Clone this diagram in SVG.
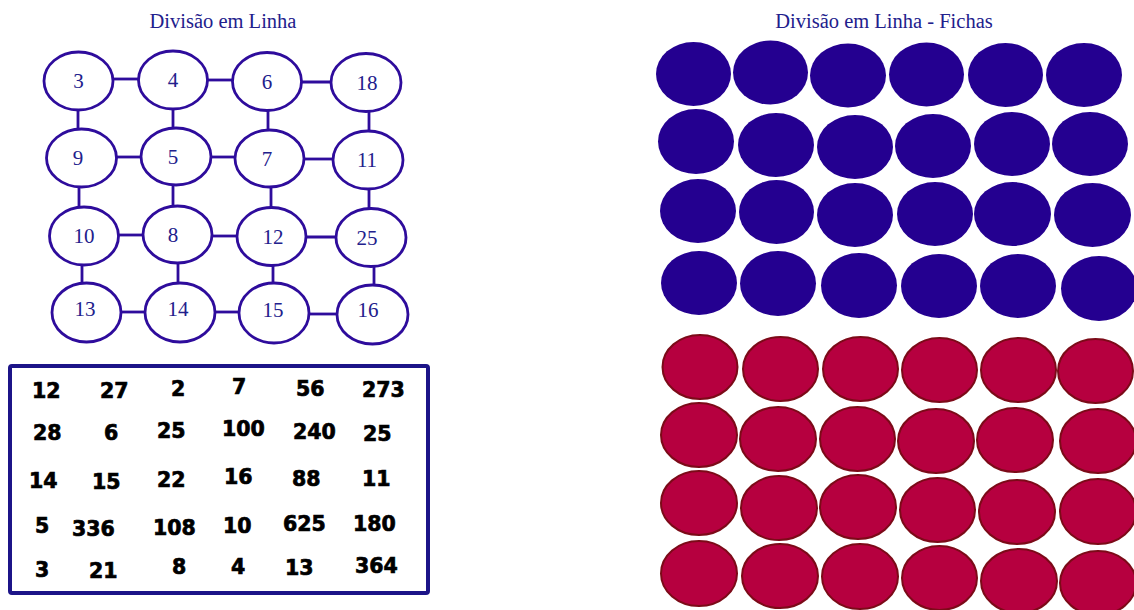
<svg xmlns="http://www.w3.org/2000/svg" width="1134" height="610" viewBox="0 0 1134 610">
<style>
.title{font-family:"Liberation Serif","Times New Roman",serif;font-size:20.5px;fill:#22208c;text-anchor:middle}
.node ellipse{fill:#fff;stroke:#2e0c9c;stroke-width:2.8}
.node text{font-family:"Liberation Serif","Times New Roman",serif;font-size:21px;fill:#22208c;text-anchor:middle}
.conn line{stroke:#2e0c9c;stroke-width:2.8}
.num{font-family:"DejaVu Sans",sans-serif;font-weight:bold;font-size:20.5px;fill:#000;stroke:#000;stroke-width:0.7}
.blue{fill:#240090}
.red{fill:#b6003f;stroke:#7c0a18;stroke-width:2}
</style>
<rect width="1134" height="610" fill="#fff"/>
<text class="title" x="223" y="28">Divisão em Linha</text>
<text class="title" x="884" y="28">Divisão em Linha - Fichas</text>

<g id="connectors" class="conn">
<line x1="112" y1="79" x2="140" y2="79"/>
<line x1="206" y1="80" x2="234" y2="80"/>
<line x1="300" y1="82" x2="333" y2="82"/>
<line x1="116" y1="157" x2="143" y2="157"/>
<line x1="210" y1="157" x2="237" y2="157"/>
<line x1="303" y1="159" x2="335" y2="159"/>
<line x1="117" y1="235" x2="145" y2="235"/>
<line x1="211" y1="236" x2="239" y2="236"/>
<line x1="305" y1="237" x2="338" y2="237"/>
<line x1="120" y1="312" x2="147" y2="312"/>
<line x1="214" y1="312" x2="241" y2="312"/>
<line x1="308" y1="314" x2="339" y2="314"/>
<line x1="78" y1="109" x2="78" y2="130"/>
<line x1="173" y1="108" x2="173" y2="129"/>
<line x1="268" y1="110" x2="268" y2="131"/>
<line x1="369" y1="111" x2="369" y2="132"/>
<line x1="79" y1="186" x2="79" y2="208"/>
<line x1="173" y1="184" x2="173" y2="207"/>
<line x1="271" y1="186" x2="271" y2="208"/>
<line x1="369" y1="188" x2="369" y2="209"/>
<line x1="82" y1="264" x2="82" y2="284"/>
<line x1="178" y1="262" x2="178" y2="284"/>
<line x1="273" y1="265" x2="273" y2="284"/>
<line x1="374" y1="266" x2="374" y2="286"/>
</g>

<g id="n3" class="node"><ellipse cx="78.5" cy="81" rx="34.5" ry="29"/><text x="78.5" y="88">3</text></g>
<g id="n4" class="node"><ellipse cx="173" cy="80" rx="34.5" ry="29"/><text x="173" y="87">4</text></g>
<g id="n6" class="node"><ellipse cx="267" cy="81.5" rx="34.5" ry="29"/><text x="267" y="88.5">6</text></g>
<g id="n18" class="node"><ellipse cx="366" cy="82.5" rx="35" ry="29"/><text x="367" y="89.5">18</text></g>
<g id="n9" class="node"><ellipse cx="81.5" cy="158" rx="35" ry="29"/><text x="78" y="165">9</text></g>
<g id="n5" class="node"><ellipse cx="176" cy="156.5" rx="35" ry="28.5"/><text x="173" y="163.5">5</text></g>
<g id="n7" class="node"><ellipse cx="269.5" cy="158.5" rx="34.5" ry="28.5"/><text x="267" y="165.5">7</text></g>
<g id="n11" class="node"><ellipse cx="368" cy="160" rx="35" ry="29"/><text x="367" y="167">11</text></g>
<g id="n10" class="node"><ellipse cx="84" cy="236" rx="34.5" ry="29"/><text x="84" y="243">10</text></g>
<g id="n8" class="node"><ellipse cx="177.5" cy="234.5" rx="34.5" ry="28.5"/><text x="173" y="241.5">8</text></g>
<g id="n12" class="node"><ellipse cx="271.5" cy="236.5" rx="34.5" ry="29"/><text x="273" y="243.5">12</text></g>
<g id="n25" class="node"><ellipse cx="371" cy="237.5" rx="35" ry="29"/><text x="367" y="244.5">25</text></g>
<g id="n13" class="node"><ellipse cx="86.5" cy="312.5" rx="34.5" ry="29.5"/><text x="85" y="316">13</text></g>
<g id="n14" class="node"><ellipse cx="180" cy="312.5" rx="35" ry="29.5"/><text x="178" y="316">14</text></g>
<g id="n15" class="node"><ellipse cx="274" cy="313" rx="35" ry="30"/><text x="273" y="316.5">15</text></g>
<g id="n16" class="node"><ellipse cx="372.5" cy="314.5" rx="35.5" ry="29.5"/><text x="368" y="316.5">16</text></g>

<g id="numbers-box">
<rect x="10" y="366" width="418" height="227" rx="2" fill="none" stroke="#1c1488" stroke-width="4"/>
<text class="num" x="32" y="398">12</text>
<text class="num" x="100" y="398">27</text>
<text class="num" x="171" y="396">2</text>
<text class="num" x="232" y="394">7</text>
<text class="num" x="296" y="396">56</text>
<text class="num" x="362" y="397">273</text>
<text class="num" x="33" y="440">28</text>
<text class="num" x="104" y="440">6</text>
<text class="num" x="157" y="438">25</text>
<text class="num" x="222" y="436">100</text>
<text class="num" x="293" y="439">240</text>
<text class="num" x="363" y="441">25</text>
<text class="num" x="29" y="488">14</text>
<text class="num" x="92" y="489">15</text>
<text class="num" x="157" y="487">22</text>
<text class="num" x="224" y="484">16</text>
<text class="num" x="292" y="486">88</text>
<text class="num" x="362" y="486">11</text>
<text class="num" x="35" y="533">5</text>
<text class="num" x="72" y="536">336</text>
<text class="num" x="153" y="535">108</text>
<text class="num" x="223" y="533">10</text>
<text class="num" x="283" y="531">625</text>
<text class="num" x="353" y="531">180</text>
<text class="num" x="35" y="577">3</text>
<text class="num" x="89" y="578">21</text>
<text class="num" x="172" y="574">8</text>
<text class="num" x="231" y="574">4</text>
<text class="num" x="285" y="575">13</text>
<text class="num" x="355" y="573">364</text>
</g>

<g id="blue-chips" class="blue">
<ellipse cx="693.5" cy="74" rx="37.5" ry="32"/>
<ellipse cx="770.5" cy="72.5" rx="37.5" ry="32"/>
<ellipse cx="848" cy="75.5" rx="38" ry="32"/>
<ellipse cx="926.5" cy="74.5" rx="37.5" ry="32"/>
<ellipse cx="1005.5" cy="75" rx="37.5" ry="32"/>
<ellipse cx="1084" cy="75" rx="38" ry="32"/>
<ellipse cx="696" cy="141.5" rx="38" ry="32.5"/>
<ellipse cx="776" cy="145" rx="38" ry="32"/>
<ellipse cx="855" cy="147" rx="38" ry="32"/>
<ellipse cx="933" cy="146" rx="38" ry="32"/>
<ellipse cx="1012" cy="144" rx="38" ry="32"/>
<ellipse cx="1090" cy="144" rx="38" ry="32"/>
<ellipse cx="698" cy="211" rx="38" ry="32"/>
<ellipse cx="776.5" cy="212" rx="37.5" ry="32"/>
<ellipse cx="855" cy="215" rx="38" ry="32"/>
<ellipse cx="935" cy="214" rx="38" ry="32"/>
<ellipse cx="1012.5" cy="214" rx="38.5" ry="32"/>
<ellipse cx="1092.5" cy="215" rx="38.5" ry="32"/>
<ellipse cx="699" cy="283" rx="38" ry="32"/>
<ellipse cx="778" cy="283.5" rx="38" ry="32.5"/>
<ellipse cx="859" cy="285.5" rx="38" ry="32.5"/>
<ellipse cx="939" cy="286" rx="38" ry="32"/>
<ellipse cx="1018" cy="286" rx="38" ry="32"/>
<ellipse cx="1099" cy="288.5" rx="38" ry="32.5"/>
</g>

<g id="red-chips" class="red">
<ellipse cx="700" cy="367" rx="37.5" ry="32"/>
<ellipse cx="780.5" cy="369" rx="37.5" ry="32"/>
<ellipse cx="860.5" cy="369" rx="37.5" ry="32"/>
<ellipse cx="939.5" cy="370" rx="37.5" ry="32"/>
<ellipse cx="1018.5" cy="370" rx="37.5" ry="32"/>
<ellipse cx="1095.5" cy="371" rx="37.5" ry="32"/>
<ellipse cx="699" cy="435" rx="38" ry="32"/>
<ellipse cx="778" cy="439" rx="38" ry="32"/>
<ellipse cx="857.5" cy="439" rx="37.5" ry="32"/>
<ellipse cx="936" cy="441" rx="38" ry="32"/>
<ellipse cx="1015" cy="440" rx="38" ry="32"/>
<ellipse cx="1098" cy="441" rx="38" ry="32"/>
<ellipse cx="699" cy="503" rx="38" ry="32"/>
<ellipse cx="779" cy="508" rx="38" ry="32"/>
<ellipse cx="858" cy="507" rx="38" ry="32"/>
<ellipse cx="937.5" cy="510" rx="37.5" ry="32"/>
<ellipse cx="1017" cy="512" rx="38" ry="32"/>
<ellipse cx="1098" cy="511.5" rx="38" ry="32.5"/>
<ellipse cx="699" cy="573.5" rx="38" ry="32.5"/>
<ellipse cx="780" cy="576" rx="38" ry="32"/>
<ellipse cx="860" cy="576.5" rx="38" ry="32.5"/>
<ellipse cx="939.5" cy="578" rx="37.5" ry="32"/>
<ellipse cx="1019" cy="581" rx="38" ry="32"/>
<ellipse cx="1098" cy="583" rx="38" ry="32"/>
</g>
</svg>
